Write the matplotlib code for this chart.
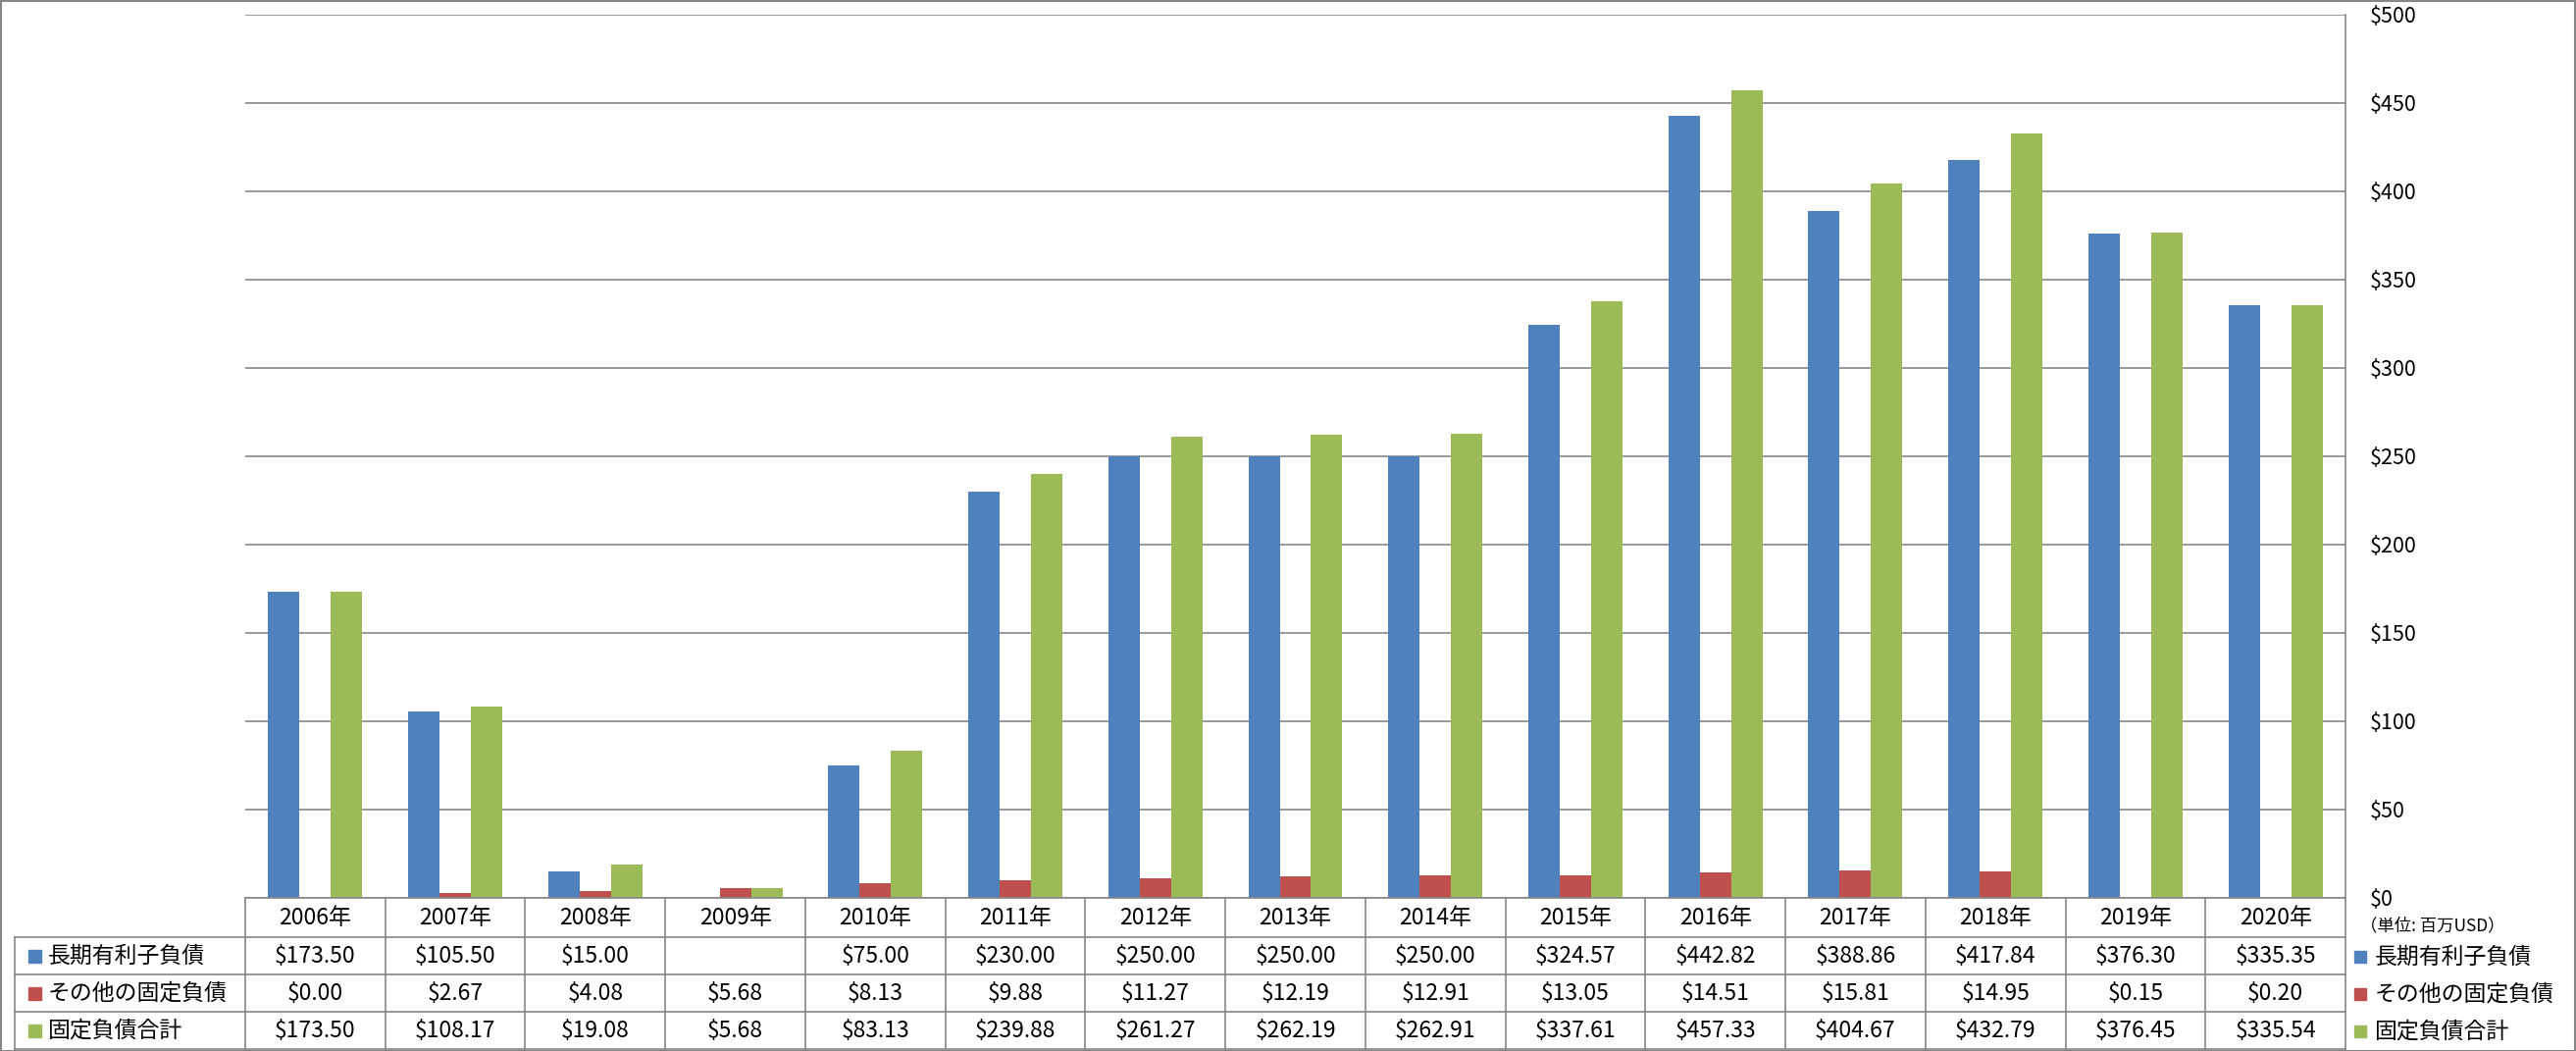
import numpy as np
import matplotlib
matplotlib.use("Agg")
import matplotlib.pyplot as plt
import matplotlib.transforms as mtransforms
from matplotlib.patches import Rectangle

plt.rcParams['font.family'] = ['Noto Sans CJK JP', 'DejaVu Sans']

years = ['2006年', '2007年', '2008年', '2009年', '2010年', '2011年', '2012年', '2013年',
         '2014年', '2015年', '2016年', '2017年', '2018年', '2019年', '2020年']
series_names = ['長期有利子負債', 'その他の固定負債', '固定負債合計']
long_debt = [173.50, 105.50, 15.00, np.nan, 75.00, 230.00, 250.00, 250.00,
             250.00, 324.57, 442.82, 388.86, 417.84, 376.30, 335.35]
other_fixed = [0.00, 2.67, 4.08, 5.68, 8.13, 9.88, 11.27, 12.19,
               12.91, 13.05, 14.51, 15.81, 14.95, 0.15, 0.20]
total_fixed = [173.50, 108.17, 19.08, 5.68, 83.13, 239.88, 261.27, 262.19,
               262.91, 337.61, 457.33, 404.67, 432.79, 376.45, 335.54]
colors = ['#4F81BD', '#C0504D', '#9BBB59']
series = [long_debt, other_fixed, total_fixed]

W, H = 2626, 1071
fig = plt.figure(figsize=(W / 100, H / 100), dpi=100)
ax_l, ax_r, ax_t, ax_b = 250, 2391, 15, 915
ax = fig.add_axes([ax_l / W, 1 - ax_b / H, (ax_r - ax_l) / W, (ax_b - ax_t) / H])

grey = '#868686'
x = np.arange(len(years))
bw = 0.224
for k, vals in enumerate(series):
    ax.bar(x + (k - 1) * bw, vals, width=bw, color=colors[k], zorder=3)

ax.set_xlim(-0.5, len(years) - 0.5)
ax.set_ylim(0, 500)
ax.set_yticks(np.arange(0, 501, 50))
ax.set_yticklabels(['$%d' % v for v in range(0, 501, 50)])
ax.yaxis.tick_right()
ax.tick_params(axis='y', length=0, pad=17.5, labelsize=15.5)
ax.set_xticks([])
ax.grid(axis='y', color=grey, linewidth=1.2, zorder=0)
for s in ['left', 'top', 'bottom']:
    ax.spines[s].set_visible(False)
ax.spines['right'].set_color(grey)
ax.spines['right'].set_linewidth(1.2)

# data table below the plot
tr = mtransforms.blended_transform_factory(ax.transData, fig.transFigure)
fy = lambda p: 1 - p / H
rows = [915, 955, 993, 1031, 1069]
left_px = 15
lw = 1.2
# horizontal lines
fig.add_artist(plt.Line2D([-0.5, len(years) - 0.5], [fy(rows[0])] * 2, transform=tr, color=grey, lw=lw))
for r in rows[1:]:
    fig.add_artist(plt.Line2D([left_px / W, ax_r / W], [fy(r)] * 2, transform=fig.transFigure, color=grey, lw=lw))
# vertical lines
for i in range(len(years) + 1):
    fig.add_artist(plt.Line2D([i - 0.5, i - 0.5], [fy(rows[0]), fy(rows[-1])], transform=tr, color=grey, lw=lw))
fig.add_artist(plt.Line2D([left_px / W] * 2, [fy(rows[1]), fy(rows[-1])], transform=fig.transFigure, color=grey, lw=lw))

for i, yr in enumerate(years):
    fig.text(i, fy((rows[0] + rows[1]) / 2), yr, transform=tr, ha='center', va='center', fontsize=16.5)
for k, vals in enumerate(series):
    yc = fy((rows[k + 1] + rows[k + 2]) / 2)
    fig.add_artist(Rectangle((29 / W, yc - 6.5 / H), 13 / W, 13 / H, transform=fig.transFigure,
                             color=colors[k]))
    fig.text(49 / W, yc, series_names[k], ha='left', va='center', fontsize=16.5)
    for i, v in enumerate(vals):
        if not np.isnan(v):
            fig.text(i, yc, '$%.2f' % v, transform=tr, ha='center', va='center', fontsize=16.5)

# legend on the right
fig.text(2406 / W, fy(943), '（単位: 百万USD）', ha='left', va='center', fontsize=12.5)
for k, name in enumerate(series_names):
    yc = fy([975, 1013, 1051][k])
    fig.add_artist(Rectangle((2400 / W, yc - 6 / H), 12 / W, 12 / H, transform=fig.transFigure,
                             color=colors[k]))
    fig.text(2421 / W, yc, name, ha='left', va='center', fontsize=16.5)

# outer border
fig.add_artist(Rectangle((0.5 / W, 0.5 / H), 1 - 1.5 / W, 1 - 1.5 / H, transform=fig.transFigure,
                         fill=False, edgecolor=grey, lw=1.5))

fig.savefig('out.png', dpi=100)
